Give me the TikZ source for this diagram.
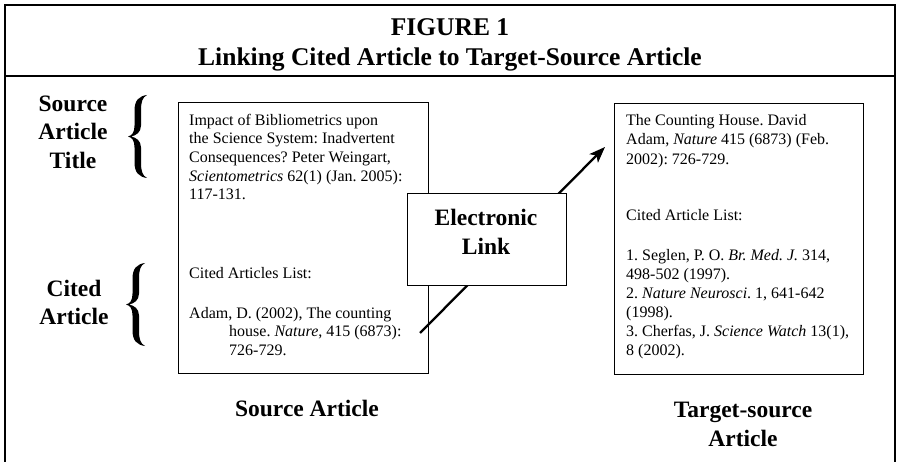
\documentclass[tikz,border=0pt]{standalone}
\usepackage{fontspec}
\setmainfont{Liberation Serif}
\usetikzlibrary{arrows.meta}
\frenchspacing
\newcommand{\bodyA}{\fontsize{16}{18.7}\selectfont}
\newcommand{\bodyB}{\fontsize{16}{19.5}\selectfont}
\newcommand{\bodyC}{\fontsize{16}{19}\selectfont}
\newcommand{\lab}{\bfseries\fontsize{23.5}{28.5}\selectfont}
\newcommand{\ttl}{\bfseries\fontsize{25.5}{30}\selectfont}
\begin{document}
\begin{tikzpicture}[x=1pt,y=-1pt,
  frameline/.style={line width=1.2pt},
  boxnode/.style={draw, line width=1.1pt, inner sep=0pt, rectangle},
  txtnode/.style={inner sep=0pt, align=left, anchor=north west},
  labnode/.style={inner sep=0pt, align=center, anchor=north, font=\lab},
  cbrace/.pic={
    \fill[black] (19,-41.5)
      .. controls (11,-40.5) and (6.5,-36) .. (6.5,-26)
      -- (6.5,-11)
      .. controls (6.5,-4) and (4,-1) .. (0,0)
      .. controls (4,1) and (6.5,4) .. (6.5,11)
      -- (6.5,26)
      .. controls (6.5,36) and (11,40.5) .. (19,41.5)
      .. controls (14.5,39) and (13,35) .. (13,26)
      -- (13,11)
      .. controls (13,4) and (8,1) .. (3,0)
      .. controls (8,-1) and (13,-4) .. (13,-11)
      -- (13,-26)
      .. controls (13,-35) and (14.5,-39) .. (19,-41.5) -- cycle;
  }]
\useasboundingbox (0,0) rectangle (899,462);

% outer frame
\coordinate (fbl) at (5,462);
\coordinate (ftl) at (5,5);
\coordinate (ftr) at (895,5);
\coordinate (fbr) at (895,462);
\coordinate (sepl) at (5,76);
\coordinate (sepr) at (895,76);
\draw[frameline] (fbl) -- (ftl) -- (ftr) -- (fbr);
\draw[frameline] (sepl) -- (sepr);

% title
\node[labnode, font=\ttl] (title) at (450,14) {\strut FIGURE 1\\Linking Cited Article to Target-Source Article};

% left labels and braces
\node[labnode] (lsrc) at (73,91) {\strut Source\\Article\\Title};
\node[labnode] (lcited) at (74,276) {\strut Cited\\Article};
\pic at (128,136.5) {cbrace};
\pic at (126,304.5) {cbrace};

% link line with arrow (behind the link box)
\coordinate (lnkstart) at (420,333);
\coordinate (lnktip) at (605,147);
\draw[line width=2.3pt, -{Stealth[length=16pt,width=12pt,inset=4pt]}] (lnkstart) -- (lnktip);

% source article box
\node[boxnode, minimum width=250pt, minimum height=271pt, anchor=north west] (srcbox) at (178,102) {};
\node[txtnode, font=\bodyA] (srctitle) at (189,111.9) {\strut Impact of Bibliometrics upon\\the Science System: Inadvertent\\Consequences? Peter Weingart,\\\textit{Scientometrics} 62(1) (Jan. 2005):\\117-131.};
\node[inner sep=0pt, anchor=base west, font=\bodyA] (srclisthead) at (189,279) {Cited Articles List:};
\node[txtnode, font=\bodyA] (srcref) at (189,304.9) {\strut Adam, D. (2002), The counting\\\hspace*{40pt}house. \textit{Nature}, 415 (6873):\\\hspace*{40pt}726-729.};

% electronic link box
\node[boxnode, fill=white, minimum width=159pt, minimum height=92pt, anchor=north west] (linkbox) at (407,193) {};
\node[labnode] (linktext) at (486,205.7) {\strut Electronic\\Link};

% target-source article box
\node[boxnode, minimum width=249pt, minimum height=271pt, anchor=north west] (tgtbox) at (614,103) {};
\node[txtnode, font=\bodyB] (tgttitle) at (626,111.35) {\strut The Counting House. David\\Adam, \textit{Nature} 415 (6873) (Feb.\\2002): 726-729.};
\node[inner sep=0pt, anchor=base west, font=\bodyC] (tgtlisthead) at (626,221) {Cited Article List:};
\node[txtnode, font=\bodyC] (tgtlist) at (626,246.7) {\strut 1. Seglen, P. O. \textit{Br. Med. J.} 314,\\498-502 (1997).\\2. \textit{Nature Neurosci}. 1, 641-642\\(1998).\\3. Cherfas, J. \textit{Science Watch} 13(1),\\8 (2002).};

% bottom captions
\node[inner sep=0pt, anchor=base, font=\lab] (capsrc) at (307,416) {Source Article};
\node[labnode] (captgt) at (743,397.4) {\strut Target-source\\Article};
\end{tikzpicture}
\end{document}
